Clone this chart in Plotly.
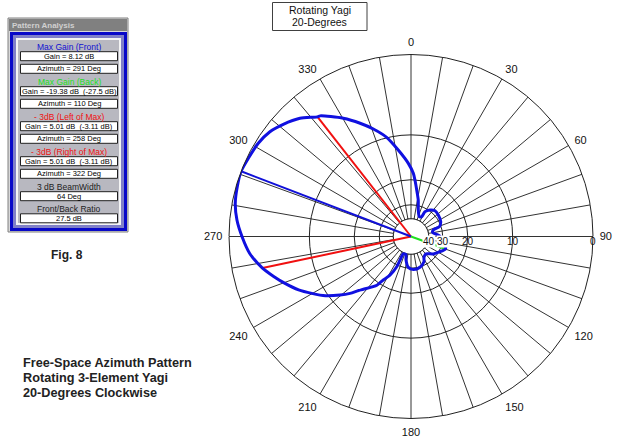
import plotly.graph_objects as go

# Pattern: azimuth (deg) and gain relative to the peak (dB)
azimuth = [291, 295.7, 301.4, 306.6, 311.3, 316.8, 322, 323, 330.2, 335.8, 340.7, 346.2, 351.6, 357.9,
           2.1, 4, 7, 11.3, 15.4, 22.7, 28.4, 29.4, 35.6, 43, 51.8, 63.5,
           70.9, 73.7, 80, 88.4, 98, 108, 110, 117.7, 128, 139, 148, 152.7, 163.7, 176, 185, 192,
           196, 204, 205, 205.3, 208.6, 212.5, 215, 222, 224.1, 227, 230.5, 235.3, 240.2, 244.6,
           249.6, 253.8, 258, 264, 270, 275.4, 280.7, 286, 291]
rel_gain = [0, -0.14, -0.29, -0.6, -1.17, -1.98, -3.11, -3.2, -4.97, -6.56, -8.04, -9.92, -12.59, -15.63,
            -18.15, -20.05, -23.3, -27.33, -32.43, -36.65, -35.87, -31.8, -29.5, -28.2, -28.44, -29.2,
            -30.9, -35.35, -36.25, -31.94, -29.3, -27.6, -27.5, -29.45, -31.94, -35.5, -34.4, -31.94, -29.83, -29.3, -30.38, -34.76,
            -39.05, -38.77, -33.4, -29.1, -24.37, -21.63, -19.2, -16.15, -15.17, -13.39, -11.7, -9.6, -7.97, -6.53,
            -5.2, -4.14, -3.11, -1.98, -1.27, -0.69, -0.3, -0.12, 0]

marker_az = [322, 258, 291, 110]
marker_db = [-3.11, -3.11, 0, -27.5]
marker_col = ["#f01010", "#f01010", "#1010d8", "#20e020"]

ring_db = [0, -10, -20, -30, -40]
ring_lbl = ["0", "10", "20", "30", "40"]
spoke_az = list(range(0, 360, 10))
major_az = list(range(0, 360, 30))

panel_rows = [
    ("h", "Max Gain (Front)", "#1010d0"),
    ("b", "Gain = 8.12 dB", "black"),
    ("b", "Azimuth = 291 Deg", "black"),
    ("h", "Max Gain (Back)", "#20e020"),
    ("b", "Gain = -19.38 dB  (-27.5 dB)", "black"),
    ("b", "Azimuth = 110 Deg", "black"),
    ("h", "- 3dB (Left of Max)", "#f01010"),
    ("b", "Gain = 5.01 dB  (-3.11 dB)", "black"),
    ("b", "Azimuth = 258 Deg", "black"),
    ("h", "- 3dB (Right of Max)", "#f01010"),
    ("b", "Gain = 5.01 dB  (-3.11 dB)", "black"),
    ("b", "Azimuth = 322 Deg", "black"),
    ("h", "3 dB BeamWidth", "#222222"),
    ("b", "64 Deg", "black"),
    ("h", "Front/Back Ratio", "#222222"),
    ("b", "27.5 dB", "black"),
]
panel_y = [46.7, 56.2, 68.8, 81.7, 91.2, 103.8, 116.7, 126.2, 138.8,
           151.7, 161.2, 173.8, 186.7, 196.2, 208.8, 218.3]
notes = ["Free-Space Azimuth Pattern", "Rotating 3-Element Yagi", "20-Degrees Clockwise"]
W, H = 640, 439
FONT = "Liberation Sans"


def scale(db):
    return 0.89 ** (-db / 2)


def X(p):
    return p / W


def Y(p):
    return 1 - p / H


fig = go.Figure()
fig.add_trace(go.Scatterpolar(
    r=[scale(-40)] * 73, theta=[i * 5 for i in range(73)], mode="lines", fill="toself",
    fillcolor="white", line=dict(color="#222222", width=1), hoverinfo="skip"))
for a, d, c in zip(marker_az, marker_db, marker_col):
    fig.add_trace(go.Scatterpolar(r=[0, scale(d)], theta=[a, a], mode="lines",
                                  line=dict(color=c, width=2)))
fig.add_trace(go.Scatterpolar(r=[scale(d) for d in rel_gain], theta=azimuth, mode="lines",
                              line=dict(color="#1010e0", width=3, shape="spline", smoothing=0.7)))

shapes = []
annots = []


def rect(x0, y0, x1, y1, fill, line=None, lw=1):
    shapes.append(dict(type="rect", xref="paper", yref="paper", x0=X(x0), x1=X(x1), y0=Y(y0), y1=Y(y1),
                       fillcolor=fill, line=dict(color=line or fill, width=lw if line else 0)))


def text(x, y, s, size=8, color="black", bold=False, anchor="center", bg=None):
    annots.append(dict(xref="paper", yref="paper", x=X(x), y=Y(y), text=f"<b>{s}</b>" if bold else s,
                       showarrow=False, xanchor=anchor, yanchor="middle", bgcolor=bg, borderpad=0,
                       font=dict(family=FONT, size=size, color=color)))


# left analysis panel
rect(8, 18, 128, 232, "#d8d8d8", "#808080")
rect(9, 19, 127, 31, "#808080")
rect(10, 32, 127, 231, "#0808c8")
rect(13, 35, 124, 228, "#8080c8")
rect(16, 38, 121, 225, "#f4f4f4")
rect(18, 40, 119, 223, "#b8b8c0")
text(11, 25, "Pattern Analysis", size=8, color="#d0d0d0", bold=True, anchor="left")
for (kind, label, col), y in zip(panel_rows, panel_y):
    if kind == "b":
        rect(20.5, y - 4.5, 117.5, y + 4.5, "white", "#202020")
        text(69, y, label, size=7.5, color=col)
    else:
        text(69, y, label, size=8.5, color=col)

# title box
rect(272.5, 2.5, 367, 30.5, "white", "#404040")
text(319.5, 9.5, "Rotating Yagi", size=10.5, color="#111111")
text(319.5, 21.5, "20-Degrees", size=10.5, color="#111111")

text(66.5, 255, "Fig. 8", size=12, color="#222222", bold=True)
for n, y in zip(notes, [362.7, 378, 393]):
    text(22, y, n, size=12.7, color="#222222", bold=True, anchor="left")

# radial scale labels
for d, l in zip(ring_db, ring_lbl):
    text(411 + 182 * scale(d), 241.5, l, size=10, color="#111111", bg="white" if l in ("30", "40") else None)

fig.update_layout(
    width=W, height=H, autosize=False, showlegend=False, paper_bgcolor="white",
    margin=dict(l=0, r=0, t=0, b=0), shapes=shapes, annotations=annots,
    polar=dict(
        domain=dict(x=[X(229), X(593)], y=[Y(418.5), Y(54.5)]),
        bgcolor="white",
        radialaxis=dict(range=[0, 1], tickvals=[scale(d) for d in ring_db], showticklabels=False,
                        ticks="", showline=False, gridcolor="#222222", gridwidth=1),
        angularaxis=dict(rotation=90, direction="clockwise", tickmode="array", tickvals=spoke_az,
                         ticktext=[str(a) if a in major_az else "" for a in spoke_az],
                         ticks="outside", ticklen=4, tickcolor="white", showline=True,
                         linecolor="#222222", linewidth=1, gridcolor="#333333", gridwidth=1,
                         tickfont=dict(family=FONT, size=11, color="#111111")),
    ),
)
fig.write_html("out.html", config=dict(displayModeBar=False),
               post_script="document.body.style.margin='0';document.documentElement.style.overflow='hidden';")
